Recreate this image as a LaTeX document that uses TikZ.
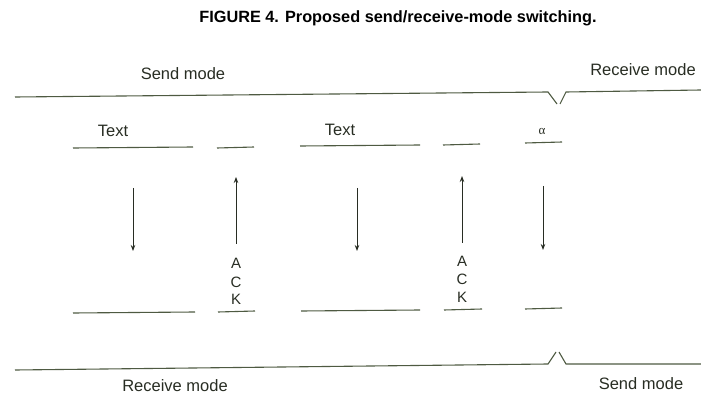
\documentclass[tikz,border=0pt]{standalone}
\usepackage{fontspec}
\setmainfont{Liberation Sans}
\newfontfamily\serifgreek{Liberation Serif}
\usetikzlibrary{arrows.meta}
\definecolor{ink}{RGB}{78,90,66}
\definecolor{txt}{RGB}{40,45,35}
\tikzset{
  rule/.style={draw=ink,line width=1.1pt},
  flow/.style={draw=txt,line width=0.9pt,-{Stealth[length=6pt,width=4.5pt]}},
  lbl/.style={text=txt,font=\fontsize{16.5}{18}\selectfont,inner sep=0pt},
  ack/.style={text=txt,font=\fontsize{15}{18}\selectfont,inner sep=0pt,align=center}
}
\begin{document}
\begin{tikzpicture}[x=1pt,y=-1pt]
\useasboundingbox (0,0) rectangle (701,395);
\node[text=black,font=\bfseries\fontsize{16.3}{18}\selectfont,inner sep=0pt] (title) at (398,18) {FIGURE 4. Proposed send/receive-mode switching.};
% mode lines
\coordinate (t1) at (15,97); \coordinate (t2) at (548,92); \coordinate (t3) at (557,104);
\coordinate (t4) at (566,92); \coordinate (t5) at (701,90);
\draw[rule] (t1) -- (t2) -- (t3);
\draw[rule] (t3) ++(3,0) -- (t4) -- (t5);
\coordinate (b1) at (15,370); \coordinate (b2) at (548,364); \coordinate (b3) at (556,352);
\coordinate (b4) at (566,364); \coordinate (b5) at (701,364);
\draw[rule] (b1) -- (b2) -- (b3);
\draw[rule] (b3) ++(3,0) -- (b4) -- (b5);
\node[lbl] (sendtop) at (183,74) {Send mode};
\node[lbl] (rectop) at (643,70) {Receive mode};
\node[lbl] (recbot) at (175,386) {Receive mode};
\node[lbl] (sendbot) at (641,384) {Send mode};
% top row bars
\draw[rule] (73,148) coordinate (u1a) -- (193,147) coordinate (u1b);
\draw[rule] (217,148) coordinate (u2a) -- (254,147) coordinate (u2b);
\draw[rule] (300,146) coordinate (u3a) -- (420,145) coordinate (u3b);
\draw[rule] (443,145) coordinate (u4a) -- (480,144) coordinate (u4b);
\draw[rule] (525,143) coordinate (u5a) -- (562,142) coordinate (u5b);
\node[lbl] (text1) at (113,131) {Text};
\node[lbl] (text2) at (340,130) {Text};
\node[lbl,font=\serifgreek\fontsize{13}{14}\selectfont] (alpha) at (542,131) {α};
% bottom row bars
\draw[rule] (73,313) coordinate (l1a) -- (195,312) coordinate (l1b);
\draw[rule] (218,312) coordinate (l2a) -- (255,311) coordinate (l2b);
\draw[rule] (301,311) coordinate (l3a) -- (420,310) coordinate (l3b);
\draw[rule] (444,310) coordinate (l4a) -- (482,309) coordinate (l4b);
\draw[rule] (525,309) coordinate (l5a) -- (562,308) coordinate (l5b);
% arrows
\coordinate (d1s) at (133,188); \coordinate (d1e) at (133,251);
\coordinate (u1s) at (236,244); \coordinate (u1e) at (236,177);
\coordinate (d2s) at (357,188); \coordinate (d2e) at (357,251);
\coordinate (u2s) at (462,243); \coordinate (u2e) at (462,176);
\coordinate (d3s) at (543,186); \coordinate (d3e) at (543,250);
\draw[flow] (d1s) -- (d1e);
\draw[flow] (u1s) -- (u1e);
\draw[flow] (d2s) -- (d2e);
\draw[flow] (u2s) -- (u2e);
\draw[flow] (d3s) -- (d3e);
\node[ack] (a1) at (236,263) {A}; \node[ack] (c1) at (236,282) {C}; \node[ack] (k1) at (236,299) {K};
\node[ack] (a2) at (462,261) {A}; \node[ack] (c2) at (462,279) {C}; \node[ack] (k2) at (462,297) {K};
\end{tikzpicture}
\end{document}
